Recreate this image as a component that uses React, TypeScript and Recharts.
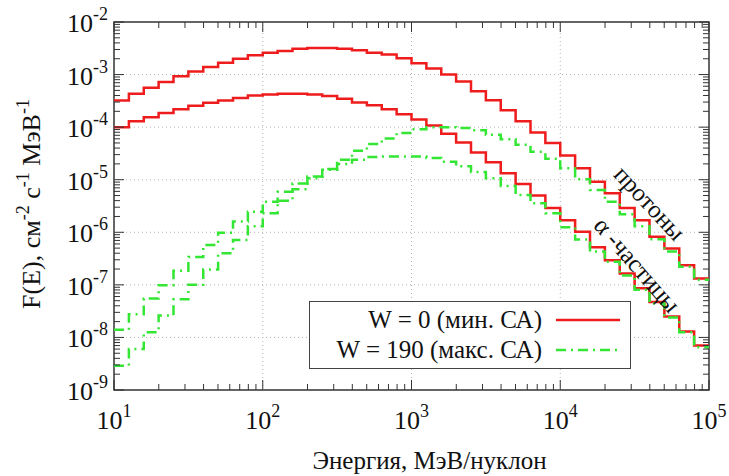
import React from "react";
import {
  LineChart,
  Line,
  XAxis,
  YAxis,
  ReferenceLine,
  ReferenceArea,
  ReferenceDot,
  Legend,
} from "recharts";

// bin edges, MeV/nucleon (10 bins per decade)
const energy = [
  10, 12.59, 15.85, 19.95, 25.12, 31.62, 39.81, 50.12, 63.1, 79.43,
  100, 125.9, 158.5, 199.5, 251.2, 316.2, 398.1, 501.2, 631, 794.3,
  1000, 1259, 1585, 1995, 2512, 3162, 3981, 5012, 6310, 7943,
  10000, 12589, 15849, 19953, 25119, 31623, 39811, 50119, 63096, 79433,
  100000,
];

// W = 0, protons
const protonsW0 = [
  3.2e-4, 4.3e-4, 5.6e-4, 7.2e-4, 9.3e-4, 1.15e-3, 1.4e-3, 1.67e-3, 2.0e-3, 2.34e-3,
  2.6e-3, 2.8e-3, 3.1e-3, 3.2e-3, 3.2e-3, 3.1e-3, 2.9e-3, 2.6e-3, 2.4e-3, 2.05e-3,
  1.65e-3, 1.3e-3, 1.0e-3, 7.4e-4, 4.8e-4, 3.25e-4, 2.1e-4, 1.29e-4, 7.9e-5, 5.0e-5,
  2.9e-5, 1.66e-5, 9.1e-6, 5.5e-6, 2.9e-6, 1.7e-6, 8.2e-7, 4.9e-7, 2.35e-7, 1.32e-7,
];
// W = 0, alpha
const alphaW0 = [
  1.0e-4, 1.29e-4, 1.54e-4, 1.85e-4, 2.2e-4, 2.56e-4, 2.9e-4, 3.2e-4, 3.6e-4, 4.0e-4,
  4.2e-4, 4.3e-4, 4.3e-4, 4.2e-4, 3.9e-4, 3.45e-4, 2.95e-4, 2.6e-4, 2.2e-4, 1.75e-4,
  1.4e-4, 1.07e-4, 7.5e-5, 5.1e-5, 3.3e-5, 2.14e-5, 1.33e-5, 8.3e-6, 5.0e-6, 2.9e-6,
  1.7e-6, 1.02e-6, 5.2e-7, 2.95e-7, 1.65e-7, 8.6e-8, 4.7e-8, 2.5e-8, 1.3e-8, 7.0e-9,
];
// W = 190, protons
const protonsW190 = [
  1.4e-8, 2.75e-8, 5.5e-8, 9.8e-8, 1.85e-7, 3.4e-7, 5.7e-7, 9.8e-7, 1.6e-6, 2.46e-6,
  3.8e-6, 5.9e-6, 8.5e-6, 1.15e-5, 1.6e-5, 2.4e-5, 3.55e-5, 4.8e-5, 6.1e-5, 7.7e-5,
  9.1e-5, 1.0e-4, 1.0e-4, 9.6e-5, 8.7e-5, 7.2e-5, 5.9e-5, 4.6e-5, 3.4e-5, 2.5e-5,
  1.65e-5, 1.02e-5, 6.4e-6, 3.8e-6, 2.2e-6, 1.3e-6, 7.4e-7, 4.3e-7, 2.2e-7, 1.25e-7,
];
// W = 190, alpha
const alphaW190 = [
  2.9e-9, 6.0e-9, 1.25e-8, 2.6e-8, 5.3e-8, 1.0e-7, 1.95e-7, 4.0e-7, 7.1e-7, 1.3e-6,
  2.3e-6, 4.0e-6, 6.6e-6, 1.07e-5, 1.55e-5, 2.0e-5, 2.4e-5, 2.7e-5, 2.75e-5, 2.75e-5,
  2.75e-5, 2.6e-5, 2.2e-5, 1.8e-5, 1.4e-5, 1.07e-5, 7.6e-6, 5.1e-6, 3.55e-6, 2.3e-6,
  1.25e-6, 7.3e-7, 4.3e-7, 2.75e-7, 1.5e-7, 8.1e-8, 4.4e-8, 2.4e-8, 1.25e-8, 6.5e-9,
];

const xMajor = [10, 100, 1000, 10000, 100000];
const yMajor = [1e-9, 1e-8, 1e-7, 1e-6, 1e-5, 1e-4, 1e-3, 1e-2];
const minorSteps = [2, 3, 4, 5, 6, 7, 8, 9];

const legendLabels = ["W = 0 (мин. СА)", "W = 190 (макс. СА)"];

const RED = "#ee1c1c";
const GREEN = "#33e633";
const DASH = "10 5 2 5";
const FONT = '"Liberation Serif", "Times New Roman", serif';

const W = 729;
const H = 476;
const LEFT = 114;
const TOP = 22;
const RIGHT = 709;
const BOTTOM = 390;

const last = protonsW0.length - 1;
const data = energy.map((e, i) => ({
  e,
  p0: protonsW0[Math.min(i, last)],
  a0: alphaW0[Math.min(i, last)],
  p190: protonsW190[Math.min(i, last)],
  a190: alphaW190[Math.min(i, last)],
}));

const xTicks = [
  ...xMajor,
  ...xMajor.slice(0, -1).flatMap((d) => minorSteps.map((m) => m * d)),
].sort((a, b) => a - b);
const yTicks = [
  ...yMajor,
  ...yMajor.slice(0, -1).flatMap((d) => minorSteps.map((m) => m * d)),
].sort((a, b) => a - b);

const isMajor = (v: number) => {
  const l = Math.log10(v);
  return Math.abs(l - Math.round(l)) < 1e-6;
};

const XTick = (props: any) => {
  const { x, payload } = props;
  const v = payload.value;
  const major = isMajor(v);
  const len = major ? 10 : 6;
  return (
    <g>
      <line x1={x} x2={x} y1={BOTTOM} y2={BOTTOM - len} stroke="#333" />
      <line x1={x} x2={x} y1={TOP} y2={TOP + len} stroke="#333" />
      {major && (
        <text x={x} y={BOTTOM + 39} textAnchor="middle" fontSize={26} fill="#111" fontFamily={FONT}>
          10
          <tspan dy={-12} fontSize={18}>
            {Math.round(Math.log10(v))}
          </tspan>
        </text>
      )}
    </g>
  );
};

const YTick = (props: any) => {
  const { y, payload } = props;
  const v = payload.value;
  const major = isMajor(v);
  const len = major ? 10 : 6;
  return (
    <g>
      <line x1={LEFT} x2={LEFT + len} y1={y} y2={y} stroke="#333" />
      <line x1={RIGHT} x2={RIGHT - len} y1={y} y2={y} stroke="#333" />
      {major && (
        <text x={LEFT - 6} y={y + 10} textAnchor="end" fontSize={26} fill="#111" fontFamily={FONT}>
          10
          <tspan dy={-12} fontSize={18}>
            {"-" + Math.abs(Math.round(Math.log10(v)))}
          </tspan>
        </text>
      )}
    </g>
  );
};

const YTitle = (props: any) => {
  const { viewBox } = props;
  const cx = viewBox.x + 40;
  const cy = viewBox.y + viewBox.height / 2 - 2;
  return (
    <text
      x={cx}
      y={cy}
      textAnchor="middle"
      transform={`rotate(-90 ${cx} ${cy})`}
      fontSize={26}
      fill="#111"
      fontFamily={FONT}
    >
      F(E), см
      <tspan dy={-11} fontSize={18}>-2</tspan>
      <tspan dy={11}> с</tspan>
      <tspan dy={-11} fontSize={18}>-1</tspan>
      <tspan dy={11}> МэВ</tspan>
      <tspan dy={-11} fontSize={18}>-1</tspan>
    </text>
  );
};

const XTitle = (props: any) => {
  const { viewBox } = props;
  return (
    <text
      x={viewBox.x + viewBox.width / 2 + 18}
      y={viewBox.y + 79}
      textAnchor="middle"
      fontSize={25}
      fill="#111"
      fontFamily={FONT}
    >
      Энергия, МэВ/нуклон
    </text>
  );
};

const LegendBox = () => (
  <div
    style={{
      boxSizing: "border-box",
      width: 322,
      height: 68,
      border: "1.5px solid #444",
      background: "#fff",
      fontFamily: FONT,
      fontSize: 25,
      color: "#111",
      padding: "3px 10px 0 0",
    }}
  >
    {legendLabels.map((label, i) => (
      <div key={label} style={{ display: "flex", alignItems: "center", justifyContent: "flex-end", height: 30 }}>
        <span>{label}</span>
        <svg width={64} height={10} style={{ marginLeft: 14 }}>
          <line
            x1={0}
            x2={64}
            y1={5}
            y2={5}
            stroke={i === 0 ? RED : GREEN}
            strokeWidth={2.5}
            strokeDasharray={i === 0 ? undefined : DASH}
          />
        </svg>
      </div>
    ))}
  </div>
);

const RotatedLabel = (text: string, angle: number) => (props: any) => {
  const { cx, cy } = props;
  return (
    <text
      x={cx}
      y={cy}
      textAnchor="middle"
      dominantBaseline="central"
      transform={`rotate(${angle} ${cx} ${cy})`}
      fontSize={25}
      fill="#111"
      fontFamily={FONT}
    >
      {text}
    </text>
  );
};

export default function App() {
  return (
    <div style={{ position: "absolute", left: 0, top: 0, width: W, height: H, background: "#fff" }}>
      <LineChart width={W} height={H} data={data} margin={{ top: TOP, right: W - RIGHT, left: 0, bottom: 0 }}>
        <XAxis
          dataKey="e"
          type="number"
          scale="log"
          domain={[10, 100000]}
          allowDataOverflow
          ticks={xTicks}
          interval={0}
          tickLine={false}
          axisLine={false}
          tickSize={0}
          tickMargin={0}
          height={H - BOTTOM}
          tick={<XTick />}
          label={{ content: <XTitle /> }}
        />
        <YAxis
          type="number"
          scale="log"
          domain={[1e-9, 1e-2]}
          allowDataOverflow
          ticks={yTicks}
          interval={0}
          tickLine={false}
          axisLine={false}
          tickSize={0}
          tickMargin={0}
          width={LEFT}
          tick={<YTick />}
          label={{ content: <YTitle /> }}
        />
        {xMajor.slice(1, -1).map((v) => (
          <ReferenceLine key={"gx" + v} x={v} stroke="#b5b5b5" strokeDasharray="1 3" />
        ))}
        {yMajor.slice(1, -1).map((v) => (
          <ReferenceLine key={"gy" + v} y={v} stroke="#b5b5b5" strokeDasharray="1 3" />
        ))}
        <Line type="stepAfter" dataKey="p0" stroke={RED} strokeWidth={2.5} dot={false} isAnimationActive={false} />
        <Line type="stepAfter" dataKey="a0" stroke={RED} strokeWidth={2.5} dot={false} isAnimationActive={false} />
        <Line
          type="stepAfter"
          dataKey="p190"
          stroke={GREEN}
          strokeWidth={2.5}
          strokeDasharray={DASH}
          dot={false}
          isAnimationActive={false}
        />
        <Line
          type="stepAfter"
          dataKey="a190"
          stroke={GREEN}
          strokeWidth={2.5}
          strokeDasharray={DASH}
          dot={false}
          isAnimationActive={false}
        />
        <ReferenceArea x1={10} x2={100000} y1={1e-9} y2={1e-2} fill="none" stroke="#333" strokeWidth={1.5} />
        <ReferenceDot x={40000} y={3.6e-6} r={0} shape={RotatedLabel("протоны", 47)} />
        <ReferenceDot x={33000} y={2.4e-7} r={0} shape={RotatedLabel("α -частицы", 49)} />
        <Legend
          verticalAlign="middle"
          align="center"
          layout="horizontal"
          content={<LegendBox />}
          wrapperStyle={{ left: 309, top: 301, width: 322, height: 68 }}
        />
      </LineChart>
    </div>
  );
}
